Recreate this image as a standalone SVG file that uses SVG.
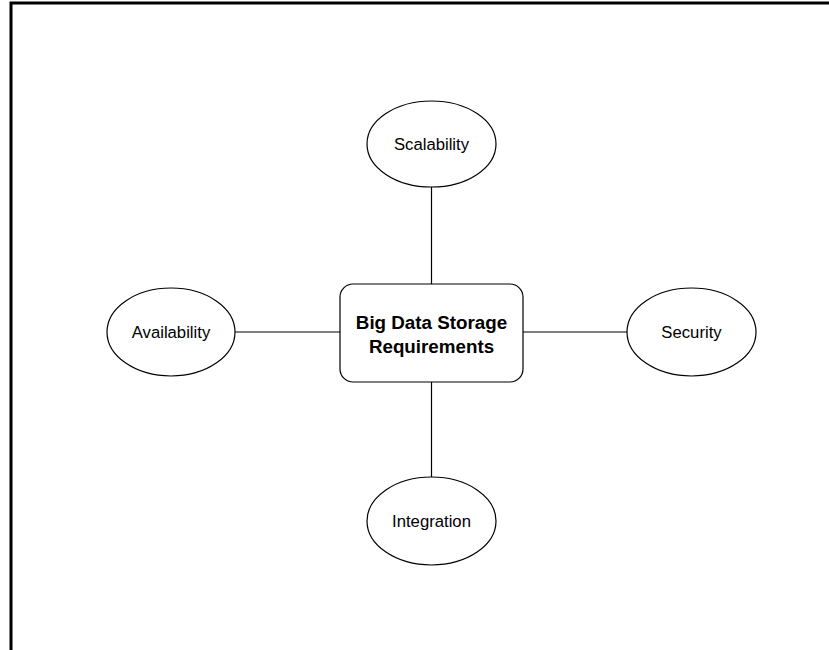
<svg xmlns="http://www.w3.org/2000/svg" width="829" height="650" viewBox="0 0 829 650">
<style>
.frame{fill:none;stroke:#000;stroke-width:3}
.node{fill:#fff;stroke:#000;stroke-width:1.2}
.lbl{font-family:"Liberation Sans",Arial,sans-serif;font-size:16.7px;fill:#000;text-anchor:middle}
.title{font-family:"Liberation Sans",Arial,sans-serif;font-size:18.8px;font-weight:bold;fill:#000;text-anchor:middle}
.edge{stroke:#000;stroke-width:1.2;fill:none}
</style>
<rect width="829" height="650" fill="#fff"/>
<rect class="frame" x="11" y="3" width="830" height="660"/>
<g id="connectors">
<line class="edge" x1="431.5" y1="187" x2="431.5" y2="284"/>
<line class="edge" x1="431.5" y1="382" x2="431.5" y2="477"/>
<line class="edge" x1="235" y1="332" x2="340" y2="332"/>
<line class="edge" x1="523" y1="332" x2="627" y2="332"/>
</g>
<g id="center">
<rect class="node" x="340" y="284" width="183" height="98" rx="13"/>
<text class="title" x="431.5" y="329">Big Data Storage</text>
<text class="title" x="431.5" y="352.5">Requirements</text>
</g>
<g id="scalability">
<ellipse class="node" cx="431.5" cy="144" rx="64.5" ry="43"/>
<text class="lbl" x="431.5" y="150">Scalability</text>
</g>
<g id="availability">
<ellipse class="node" cx="171" cy="332" rx="64" ry="44"/>
<text class="lbl" x="171" y="338">Availability</text>
</g>
<g id="security">
<ellipse class="node" cx="691.5" cy="332" rx="64.5" ry="44"/>
<text class="lbl" x="691.5" y="338">Security</text>
</g>
<g id="integration">
<ellipse class="node" cx="431.5" cy="521" rx="64.5" ry="44"/>
<text class="lbl" x="431.5" y="527">Integration</text>
</g>
</svg>
